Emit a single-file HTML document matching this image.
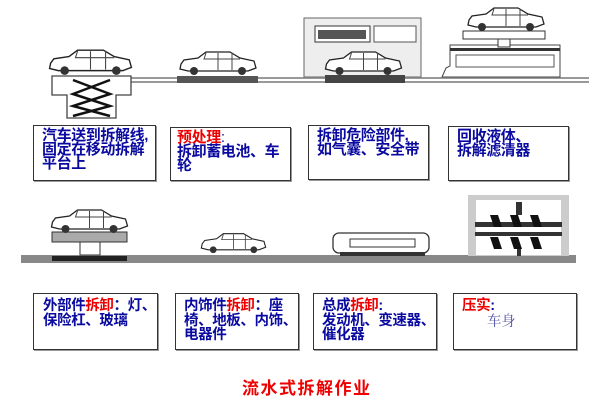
<!DOCTYPE html>
<html><head><meta charset="utf-8"><style>
body{margin:0;background:#fff;width:602px;height:405px;overflow:hidden;position:relative;font-family:"Liberation Sans","Noto Sans CJK SC",sans-serif}
.b{position:absolute;border:1.5px solid #333;background:#fff;box-sizing:border-box;color:#0a0aa0;font-weight:bold;font-size:15px;line-height:14px;padding:3px 0 0 8px;white-space:nowrap;letter-spacing:-0.4px;box-shadow:1px 1px 0 #999}
.s{font-size:14.5px;line-height:14.5px}
.r{color:#e00}
svg{position:absolute;left:0;top:0}
</style></head><body>
<svg width="602" height="405" viewBox="0 0 602 405">
<defs>
<symbol id="car" viewBox="0 0 80 26">
<path d="M3 14 L6 10 L20 8 L28 2 L52 2 L62 8 L76 11 L78 18 L70 21 L10 21 L2 19 Z" fill="#fff" stroke="#222" stroke-width="1.3"/>
<path d="M28 3 L26 9 L62 9 M40 3 L40 20 M54 3 L54 20" fill="none" stroke="#444" stroke-width="1"/>
<circle cx="16" cy="21" r="4" fill="#333"/><circle cx="64" cy="21" r="4" fill="#333"/>
</symbol>
</defs>
<rect x="115" y="77" width="474" height="6" fill="#999"/>
<rect x="115" y="79" width="474" height="2" fill="#fff"/>
<rect x="21" y="255" width="555" height="8" fill="#888"/>
<path d="M52 76 H131 V95 H116 V118 H67 V95 H52 Z" fill="#fff" stroke="#444" stroke-width="1.3"/>
<path d="M73 80 L110 94 L73 106 L110 116 M110 80 L73 94 L110 106 L73 116" stroke="#111" stroke-width="2.5" fill="none"/>
<use href="#car" x="44" y="48" width="93" height="28"/>
<rect x="177" y="76" width="81" height="7" fill="#555"/>
<use href="#car" x="171" y="50" width="94" height="26"/>
<rect x="304" y="18" width="117" height="59" fill="#eee" stroke="#666"/>
<rect x="315" y="26" width="55" height="16" fill="#fff" stroke="#333"/>
<rect x="318" y="30" width="48" height="9" fill="#555"/>
<rect x="374" y="26" width="42" height="16" fill="#fff" stroke="#555"/>
<rect x="325" y="75" width="80" height="8" fill="#444"/>
<use href="#car" x="317" y="50" width="93" height="26"/>
<path d="M442 77 L446 68 L450 66 V45 H560 V77 Z" fill="#fff" stroke="#444"/>
<rect x="450" y="48" width="110" height="3" fill="#333"/>
<rect x="456" y="55" width="98" height="12" fill="#fff" stroke="#555"/>
<rect x="463" y="31" width="82" height="8" fill="#fff" stroke="#333"/>
<rect x="498" y="39" width="12" height="8" fill="#fff" stroke="#333"/>
<use href="#car" x="460" y="6" width="92" height="26"/>
<rect x="52" y="232" width="75" height="10" fill="#aaa" stroke="#333"/>
<rect x="80" y="242" width="20" height="13" fill="#fff" stroke="#333"/>
<rect x="52" y="256" width="75" height="5" fill="#222"/>
<use href="#car" x="42" y="208" width="95" height="26"/>
<use href="#car" x="187" y="232" width="93" height="22"/>
<rect x="333" y="233" width="96" height="20" rx="6" fill="#fff" stroke="#333" stroke-width="1.3"/>
<rect x="350" y="239" width="65" height="8" fill="#fff" stroke="#333"/>
<rect x="340" y="252" width="85" height="4" fill="#333"/>
<rect x="468" y="195" width="101" height="61" fill="#ccc"/>
<rect x="476" y="200" width="85" height="55" fill="#fff"/>
<rect x="475" y="222" width="87" height="5" fill="#333"/>
<rect x="475" y="232" width="87" height="4" fill="#333"/>
<path d="M490 215h8l4 12h-8z M510 215h8l4 12h-8z M530 215h8l4 12h-8z M490 237h8l4 12h-8z M510 237h8l4 12h-8z M530 237h8l4 12h-8z" fill="#111"/>
<rect x="516" y="202" width="6" height="13" fill="#333"/>
<rect x="517" y="249" width="4" height="7" fill="#333"/>
</svg>
<div class="b" style="left:33px;top:125px;width:123px;height:56px">汽车送到拆解线,<br>固定在移动拆解<br>平台上</div>
<div class="b" style="left:170px;top:127px;width:121px;height:54px;padding-left:6px"><span class="r">预处理</span><span style="font-weight:normal">:</span><br>拆卸蓄电池、车<br>轮</div>
<div class="b" style="left:308px;top:125px;width:121px;height:55px">拆卸危险部件,<br>如气囊、安全带</div>
<div class="b" style="left:448px;top:126px;width:121px;height:55px">回收液体、<br>拆解滤清器</div>
<div class="b s" style="left:33px;top:293px;width:125px;height:57px;padding:5px 0 0 9px">外部件<span class="r">拆卸</span>：灯、<br>保险杠、玻璃</div>
<div class="b s" style="left:175px;top:293px;width:124px;height:57px;padding:5px 0 0 8px">内饰件<span class="r">拆卸</span>：座<br>椅、地板、内饰、<br>电器件</div>
<div class="b s" style="left:313px;top:293px;width:124px;height:57px;padding:5px 0 0 8px">总成<span class="r">拆卸</span>:<br>发动机、变速器、<br>催化器</div>
<div class="b s" style="left:453px;top:293px;width:124px;height:57px;padding:5px 0 0 8px"><span class="r">压实</span>:<br><span style="font-weight:normal;color:#5555aa;font-family:'Noto Serif CJK SC',serif;padding-left:25px">车身</span></div>
<div style="position:absolute;left:242px;top:374px;color:#e00;font-weight:bold;font-size:17px;white-space:nowrap;letter-spacing:1.5px">流水式拆解作业</div>
</body></html>
